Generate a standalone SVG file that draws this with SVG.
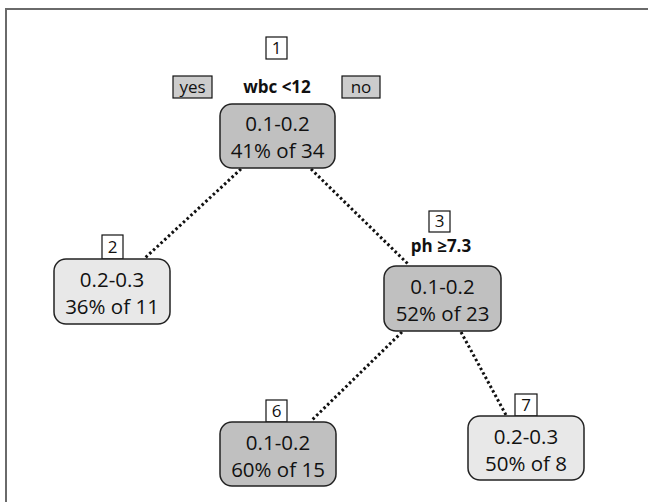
<svg xmlns="http://www.w3.org/2000/svg" width="648" height="502" viewBox="0 0 648 502">
<style>
.frame{fill:none;stroke:#6a6a6a;stroke-width:2}
.dark{fill:#c0c0c0;stroke:#222;stroke-width:1.5}
.light{fill:#e8e8e8;stroke:#222;stroke-width:1.5}
.lab{fill:#fff;stroke:#111;stroke-width:1.2}
.yn{fill:#cccccc;stroke:#111;stroke-width:1.2}
.t{font-family:"Open Sans","Liberation Sans",sans-serif;font-size:20.5px;fill:#111;text-anchor:middle}
.s{font-family:"Open Sans","Liberation Sans",sans-serif;font-size:17px;fill:#111;text-anchor:middle}
.b{font-family:"Open Sans","Liberation Sans",sans-serif;font-size:17px;font-weight:bold;fill:#111;text-anchor:middle}
.c{fill:none;stroke:#111;stroke-width:3;stroke-dasharray:2.5 2.6}
</style>
<rect class="frame" x="6" y="9" width="700" height="600"/>
<g id="connectors">
<line class="c" x1="241" y1="169" x2="145" y2="258"/>
<line class="c" x1="311" y1="169" x2="409" y2="265"/>
<line class="c" x1="402" y1="332" x2="311" y2="421"/>
<line class="c" x1="461" y1="332" x2="506" y2="415"/>
</g>
<g id="node1">
<rect class="lab" x="266" y="37" width="21" height="22"/>
<text class="s" x="276.5" y="54">1</text>
<rect class="yn" x="173" y="76" width="39" height="22"/>
<text class="s" x="192.5" y="93">yes</text>
<text class="b" x="277" y="93">wbc &lt;12</text>
<rect class="yn" x="342" y="76" width="38" height="22"/>
<text class="s" x="361" y="93">no</text>
<rect class="dark" x="220" y="104" width="115" height="64" rx="12"/>
<text class="t" x="277.5" y="131">0.1-0.2</text>
<text class="t" x="277.5" y="158">41% of 34</text>
</g>
<g id="node2">
<rect class="lab" x="102" y="235" width="21" height="24"/>
<text class="s" x="112.5" y="253">2</text>
<rect class="light" x="54" y="259" width="116" height="65" rx="12"/>
<text class="t" x="112" y="287">0.2-0.3</text>
<text class="t" x="112" y="314">36% of 11</text>
</g>
<g id="node3">
<rect class="lab" x="429" y="211" width="21" height="21"/>
<text class="s" x="439.5" y="227">3</text>
<text class="b" x="441" y="252">ph ≥7.3</text>
<rect class="dark" x="384" y="266" width="117" height="65" rx="12"/>
<text class="t" x="442.5" y="294">0.1-0.2</text>
<text class="t" x="442.5" y="321">52% of 23</text>
</g>
<g id="node6">
<rect class="lab" x="266" y="400" width="21" height="22"/>
<text class="s" x="276.5" y="417">6</text>
<rect class="dark" x="220" y="422" width="116" height="64" rx="12"/>
<text class="t" x="278" y="450">0.1-0.2</text>
<text class="t" x="278" y="477">60% of 15</text>
</g>
<g id="node7">
<rect class="lab" x="515" y="394" width="22" height="22"/>
<text class="s" x="526" y="411">7</text>
<rect class="light" x="468" y="416" width="116" height="64" rx="12"/>
<text class="t" x="526" y="444">0.2-0.3</text>
<text class="t" x="526" y="471">50% of 8</text>
</g>
</svg>
